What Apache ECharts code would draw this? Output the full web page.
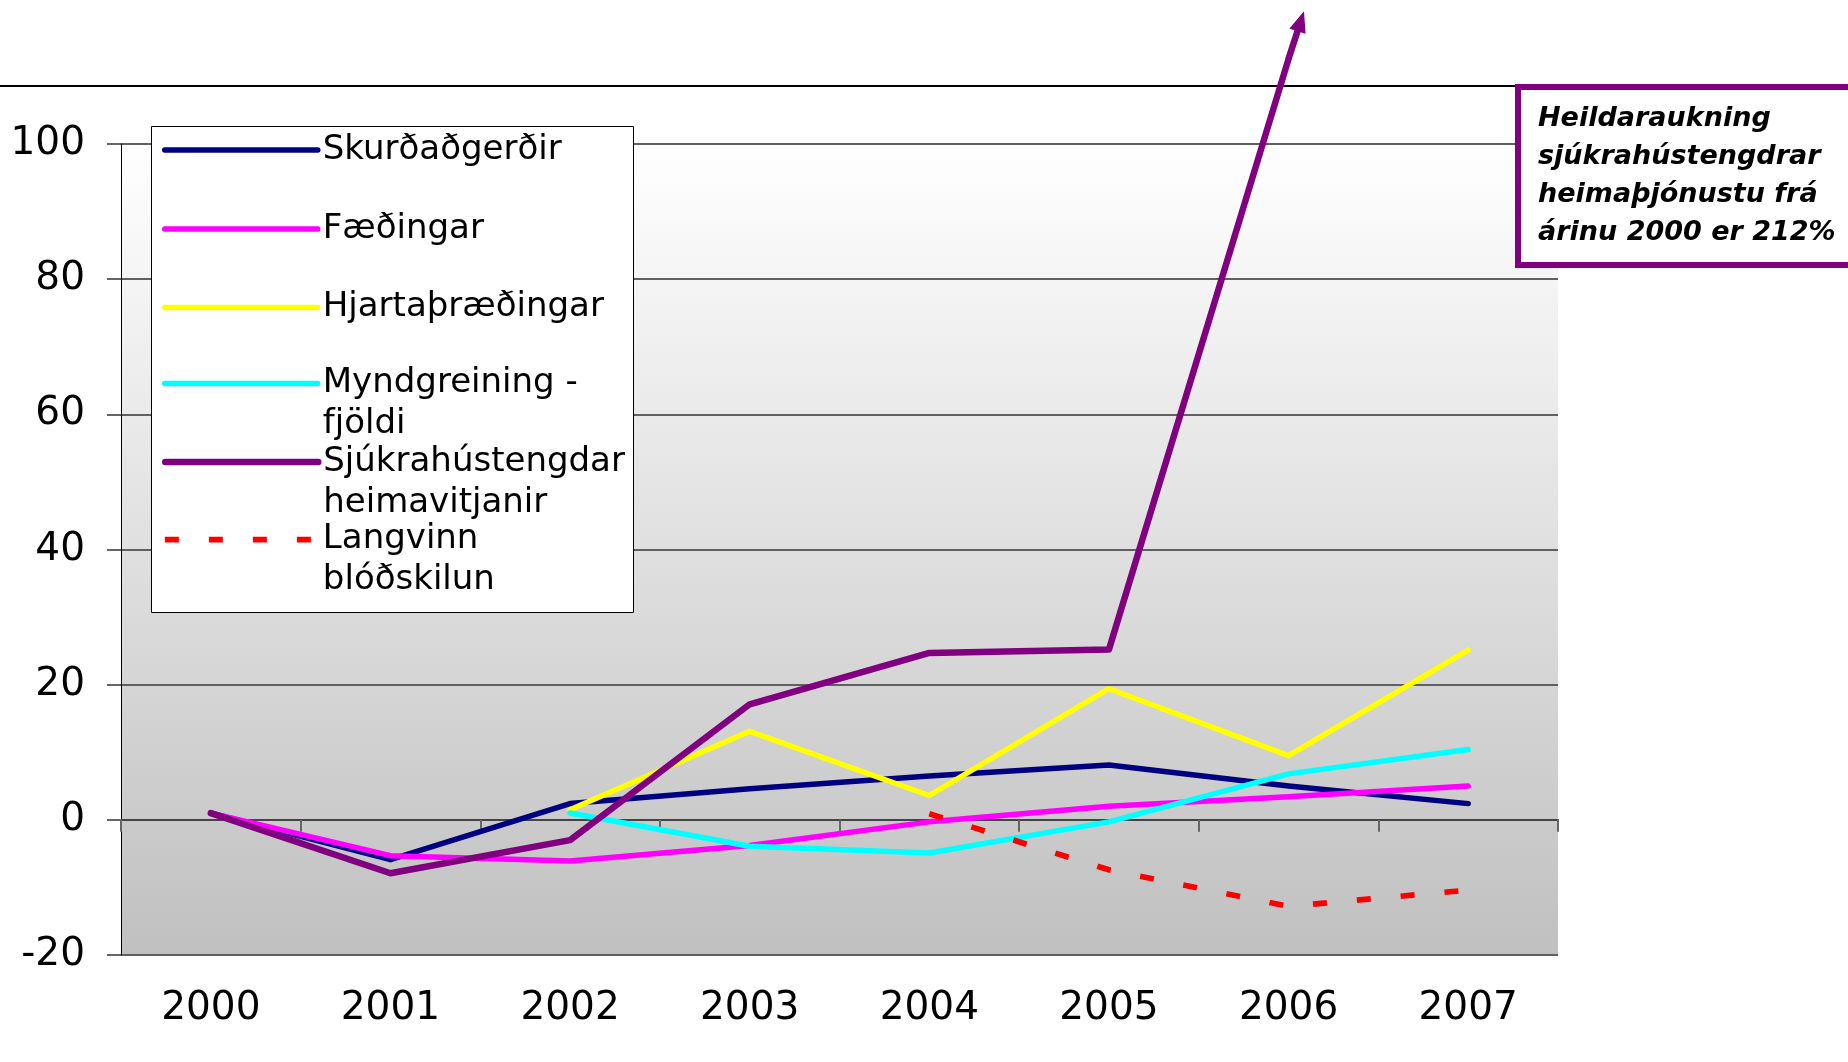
<!DOCTYPE html>
<html><head><meta charset="utf-8">
<script src="https://cdn.jsdelivr.net/npm/echarts@6/dist/echarts.min.js"></script>
<style>html,body{margin:0;padding:0;background:#fff}#c{width:1848px;height:1062px}</style>
</head><body><div id="c"></div>
<script>
const years = ['2000','2001','2002','2003','2004','2005','2006','2007'];
const seriesNames = ['Skurðaðgerðir','Fæðingar','Hjartaþræðingar','Myndgreining - fjöldi','Sjúkrahústengdar heimavitjanir','Langvinn blóðskilun'];
const legendLabels = ['Skurðaðgerðir','Fæðingar','Hjartaþræðingar','Myndgreining -\nfjöldi','Sjúkrahústengdar\nheimavitjanir','Langvinn\nblóðskilun'];
const skurdadgerdir     = [1, -5.9, 2.4, 4.6, 6.5, 8.1, 5.0, 2.4];
const faedingar         = [1, -5.3, -6.1, -3.8, -0.3, 2.0, 3.4, 5.0];
const hjartathraedingar = [null, null, 1.5, 13.1, 3.6, 19.4, 9.5, 25.1];
const myndgreining      = [null, null, 1.0, -3.9, -4.9, -0.3, 6.8, 10.4];
const sjukrahus         = [1, -7.9, -3.0, 17.1, 24.7, 25.2, 112.6, null];
const blodskilun        = [null, null, null, null, 0.9, -7.4, -12.8, -10.4];
const yMin = -20, yMax = 100, yInterval = 20;
const annotation = 'Heildaraukning\nsjúkrahústengdrar\nheimaþjónustu frá\nárinu 2000 er 212%';

const colors = ['#000080','#ff00ff','#ffff00','#00ffff','#800080','#ff0000'];
const widths = [5.5, 5.5, 5.5, 5.5, 6.5, 5.7];
const FONT = 'DejaVu Sans';

// purple series: last point carries an arrow (shaft + head) continuing the line
const ARROW_PATH = 'path://M8.5 0 L17 21 L11.75 21 L11.75 50 L5.25 50 L5.25 21 L0 21 Z';
const lastIdx = sjukrahus.reduce((a, v, i) => v != null ? i : a, 0);
const purpleData = sjukrahus.map((v, i) => i === lastIdx ? {
  value: v, symbol: ARROW_PATH, symbolSize: [17, 50],
  symbolRotate: -18, symbolOffset: [7.7, -23.8],
  itemStyle: {color: '#800080', borderWidth: 0}
} : v);

const dataSets = [skurdadgerdir, faedingar, hjartathraedingar, myndgreining, purpleData, blodskilun];

const series = dataSets.map((d, i) => ({
  name: seriesNames[i],
  type: 'line',
  data: d,
  symbol: 'none',
  showSymbol: true,
  clip: false,
  connectNulls: false,
  animation: false,
  lineStyle: i === 5
    ? {color: colors[i], width: widths[i], type: [14, 30], cap: 'butt'}
    : {color: colors[i], width: widths[i], cap: 'round', join: 'round'},
  itemStyle: {color: colors[i]},
  emphasis: {disabled: true}
}));

const iconCenters = [150, 229, 307.5, 383.6, 462, 539.6];
const legends = seriesNames.map((n, i) => {
  const multi = legendLabels[i].indexOf('\n') >= 0;
  // a leading empty line keeps the first text line level with the icon
  const label = multi ? '\n' + legendLabels[i] : legendLabels[i];
  return {
    show: true, z: 10, orient: 'vertical', padding: 0, itemGap: 0,
    left: 162, top: iconCenters[i] - (multi ? 61.5 : 20.5),
    itemWidth: 153, itemHeight: 10,
    selectedMode: false,
    data: [{name: n}],
    formatter: () => label,
    lineStyle: {width: widths[i]},
    itemStyle: {opacity: 0, borderWidth: 0},
    textStyle: {fontFamily: FONT, fontSize: 34, color: '#000', lineHeight: 41}
  };
});

const chart = echarts.init(document.getElementById('c'), null, {renderer: 'canvas'});
chart.setOption({
  backgroundColor: '#ffffff',
  animation: false,
  textStyle: {fontFamily: FONT},
  grid: {
    left: 121, top: 144, width: 1437, height: 811,
    show: true, borderWidth: 0, outerBoundsMode: 'none',
    backgroundColor: new echarts.graphic.LinearGradient(0, 0, 0, 1, [
      {offset: 0, color: '#ffffff'}, {offset: 1, color: '#c0c0c0'}
    ])
  },
  xAxis: {
    type: 'category', data: years, boundaryGap: true,
    axisLine: {show: true, lineStyle: {color: '#444', width: 2}},
    axisTick: {show: true, length: 12, lineStyle: {color: '#666', width: 2}},
    axisLabel: {fontFamily: FONT, fontSize: 39, color: '#000', margin: 34},
    splitLine: {show: false}
  },
  yAxis: {
    type: 'value', min: yMin, max: yMax, interval: yInterval,
    axisLine: {show: true, lineStyle: {color: '#000', width: 1}},
    axisTick: {show: true, length: 14, lineStyle: {color: '#666', width: 2}},
    axisLabel: {fontFamily: FONT, fontSize: 39, color: '#000', margin: 36},
    splitLine: {show: true, lineStyle: {color: '#606060', width: 2}}
  },
  legend: legends,
  series: series,
  graphic: [
    {type: 'line', z: 1, shape: {x1: 0, y1: 86, x2: 1518, y2: 86}, style: {stroke: '#000', lineWidth: 2}},
    {type: 'rect', z: 5, shape: {x: 151.5, y: 126.5, width: 482, height: 486}, style: {fill: '#fff', stroke: '#000', lineWidth: 1}},
    {type: 'rect', z: 20, shape: {x: 1518, y: 87, width: 400, height: 178}, style: {fill: '#fff', stroke: '#800080', lineWidth: 6}},
    {type: 'text', z: 21, x: 1538, y: 100, style: {text: annotation, font: 'italic bold 27px "DejaVu Sans"', fill: '#000', lineHeight: 38}}
  ]
});
</script></body></html>
